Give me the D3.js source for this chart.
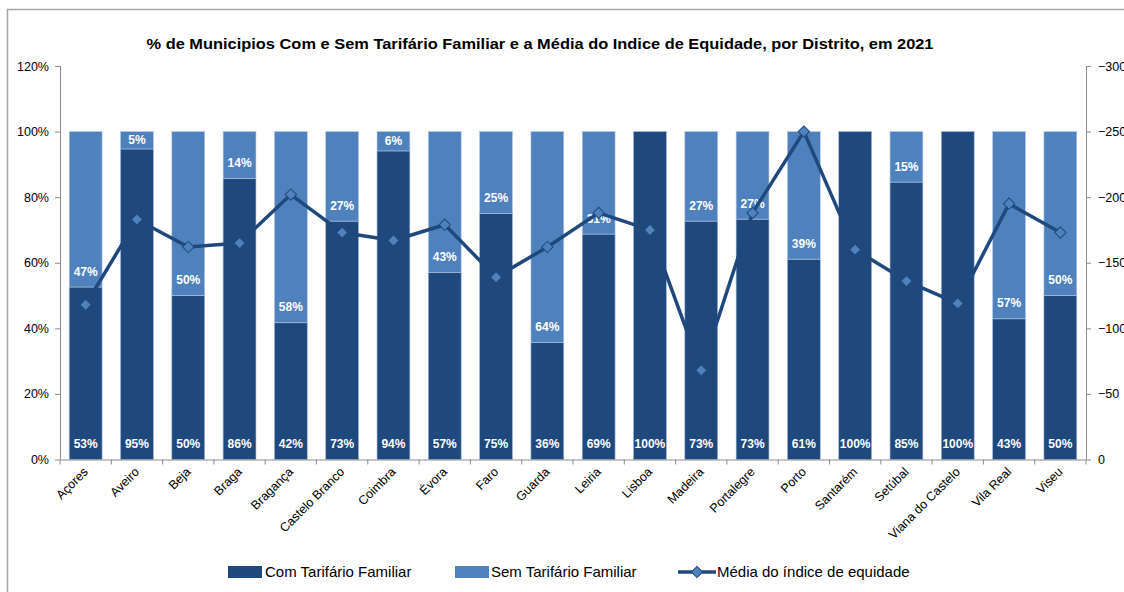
<!DOCTYPE html>
<html>
<head>
<meta charset="utf-8">
<style>
  body { margin: 0; background: #fff; }
  svg text { font-family: "Liberation Sans", Arial, sans-serif; }
</style>
</head>
<body>
<svg class="chart"></svg>
<script src="https://d3js.org/d3.v7.min.js"></script>
<script>

var distritos = ["Açores", "Aveiro", "Beja", "Braga", "Bragança", "Castelo Branco", "Coimbra", "Évora",
  "Faro", "Guarda", "Leiria", "Lisboa", "Madeira", "Portalegre", "Porto", "Santarém", "Setúbal",
  "Viana do Castelo", "Vila Real", "Viseu"]
var comTarifario = [0.526, 0.947, 0.50, 0.857, 0.417, 0.727, 0.941, 0.571, 0.75, 0.357,
  0.6875, 1.0, 0.727, 0.733, 0.611, 1.0, 0.846, 1.0, 0.429, 0.50]
var semTarifario = [0.474, 0.053, 0.50, 0.143, 0.583, 0.273, 0.059, 0.429, 0.25, 0.643,
  0.3125, 0, 0.273, 0.267, 0.389, 0, 0.154, 0, 0.571, 0.50]
var mediaIndice = [-118, -183, -162, -165, -202, -173, -167, -179, -139, -162,
  -188, -175, -68, -188, -250, -160, -136, -119, -195, -173]
var pctTicks = [0, 0.2, 0.4, 0.6, 0.8, 1.0, 1.2]
var indTicks = [0, -50, -100, -150, -200, -250, -300]

var width = 1124, height = 592
var plotLeft = 60, plotRight = 1086, plotTop = 66, plotBottom = 459.5
var dark = "#1f497d", light = "#4f81bd", axisColor = "#8c8c8c"

var svg = d3.select(".chart").attr("width", width).attr("height", height)

// chart frame
svg.append("path")
  .attr("d", "M7.5," + height + "V9.5H" + width)
  .attr("fill", "none").attr("stroke", "#a6a6a6").attr("stroke-width", 1.5)

svg.append("text")
  .attr("x", 540).attr("y", 49)
  .attr("text-anchor", "middle")
  .attr("font-size", "15px").attr("font-weight", "bold")
  .attr("textLength", 787).attr("lengthAdjust", "spacingAndGlyphs")
  .text("% de Municipios Com e Sem Tarifário Familiar e a Média do Indice de Equidade, por Distrito, em 2021")

var x = d3.scaleBand().domain(distritos).range([plotLeft, plotRight]).paddingInner(0.36).paddingOuter(0.18)
var y = d3.scaleLinear().domain([0, 1.2]).range([plotBottom, plotTop])
var y2 = d3.scaleLinear().domain([0, -300]).range([plotBottom, plotTop])

// bars
var bars = svg.append("g").selectAll("g").data(distritos).enter().append("g")

bars.append("rect")
  .attr("x", function(d) { return x(d) })
  .attr("width", x.bandwidth())
  .attr("y", function(d, i) { return y(comTarifario[i]) })
  .attr("height", function(d, i) { return y(0) - y(comTarifario[i]) })
  .attr("fill", dark).attr("stroke", "#9fb6d6").attr("stroke-width", 0.6)

bars.append("rect")
  .attr("x", function(d) { return x(d) })
  .attr("width", x.bandwidth())
  .attr("y", function(d, i) { return y(comTarifario[i] + semTarifario[i]) })
  .attr("height", function(d, i) { return y(comTarifario[i]) - y(comTarifario[i] + semTarifario[i]) })
  .attr("fill", light).attr("stroke", "#b4c8e2").attr("stroke-width", 0.6)

// line series
var line = d3.line()
  .x(function(d, i) { return x(distritos[i]) + x.bandwidth() / 2 })
  .y(function(d) { return y2(d) })

svg.append("path").datum(mediaIndice)
  .attr("d", line)
  .attr("fill", "none").attr("stroke", dark).attr("stroke-width", 3.5).attr("stroke-linejoin", "round")

var diamond = d3.symbol().type(d3.symbolSquare).size(64)
svg.append("g").selectAll("path").data(mediaIndice).enter().append("path")
  .attr("d", diamond)
  .attr("transform", function(d, i) { return "translate(" + (x(distritos[i]) + x.bandwidth() / 2) + "," + y2(d) + ") rotate(45)" })
  .attr("fill", light).attr("stroke", dark).attr("stroke-width", 1)

// data labels (inside base)
bars.append("text")
  .attr("x", function(d) { return x(d) + x.bandwidth() / 2 })
  .attr("y", y(0) - 11.5)
  .attr("text-anchor", "middle").attr("font-size", "12px").attr("font-weight", "bold")
  .attr("fill", "#fff")
  .text(function(d, i) { return Math.round(comTarifario[i] * 100) + "%" })

bars.filter(function(d, i) { return semTarifario[i] > 0 }).append("text")
  .attr("x", function(d) { return x(d) + x.bandwidth() / 2 })
  .attr("y", function(d) {
    var i = distritos.indexOf(d)
    var base = y(comTarifario[i]), topY = y(comTarifario[i] + semTarifario[i])
    return Math.max(base - 11.5, (base + topY) / 2 + 4)
  })
  .attr("text-anchor", "middle").attr("font-size", "12px").attr("font-weight", "bold")
  .attr("fill", "#fff")
  .text(function(d) { var i = distritos.indexOf(d); return Math.round(semTarifario[i] * 100) + "%" })

// axes
var yAxis = svg.append("g").attr("transform", "translate(" + plotLeft + ",0)")
  .call(d3.axisLeft(y).tickValues(pctTicks).tickSize(5).tickPadding(6).tickFormat(d3.format(".0%")))
var y2Axis = svg.append("g").attr("transform", "translate(" + plotRight + ",0)")
  .call(d3.axisRight(y2).tickValues(indTicks).tickSize(5).tickPadding(7).tickFormat(d3.format("d")))
var xAxis = svg.append("g").attr("transform", "translate(0," + plotBottom + ")")
  .call(d3.axisBottom(x).tickSize(0).tickPadding(0))

;[yAxis, y2Axis, xAxis].forEach(function(a) {
  a.select(".domain").attr("stroke", axisColor)
  a.selectAll(".tick line").attr("stroke", axisColor)
  a.selectAll("text").attr("font-size", "12.5px").attr("fill", "#000").attr("font-family", "Liberation Sans, Arial, sans-serif")
})
yAxis.select(".domain").attr("d", "M0.5," + plotTop + "V" + plotBottom)
y2Axis.select(".domain").attr("d", "M0.5," + plotTop + "V" + plotBottom)
xAxis.select(".domain").attr("d", "M" + plotLeft + ",0.5H" + plotRight)

// category boundary ticks
xAxis.selectAll(".bound").data(d3.range(distritos.length + 1)).enter().append("line")
  .attr("x1", function(i) { return plotLeft + i * (plotRight - plotLeft) / distritos.length })
  .attr("x2", function(i) { return plotLeft + i * (plotRight - plotLeft) / distritos.length })
  .attr("y1", 0).attr("y2", 5).attr("stroke", axisColor)

xAxis.selectAll(".tick text")
  .attr("text-anchor", "end")
  .attr("dy", "0.35em")
  .attr("transform", "translate(0,10) rotate(-45)")

// legend
var legend = svg.append("g").attr("font-size", "15px")
legend.append("rect").attr("x", 228).attr("y", 566).attr("width", 34).attr("height", 12).attr("fill", dark)
legend.append("text").attr("x", 265).attr("y", 577).text("Com Tarifário Familiar")
legend.append("rect").attr("x", 455).attr("y", 566).attr("width", 34).attr("height", 12).attr("fill", light)
legend.append("text").attr("x", 491).attr("y", 577).text("Sem Tarifário Familiar")
legend.append("line").attr("x1", 678).attr("x2", 716).attr("y1", 572).attr("y2", 572)
  .attr("stroke", dark).attr("stroke-width", 3.5)
legend.append("path").attr("d", diamond).attr("transform", "translate(697,572) rotate(45)")
  .attr("fill", light).attr("stroke", dark).attr("stroke-width", 1)
legend.append("text").attr("x", 717).attr("y", 577).text("Média do índice de equidade")

</script>
</body>
</html>
